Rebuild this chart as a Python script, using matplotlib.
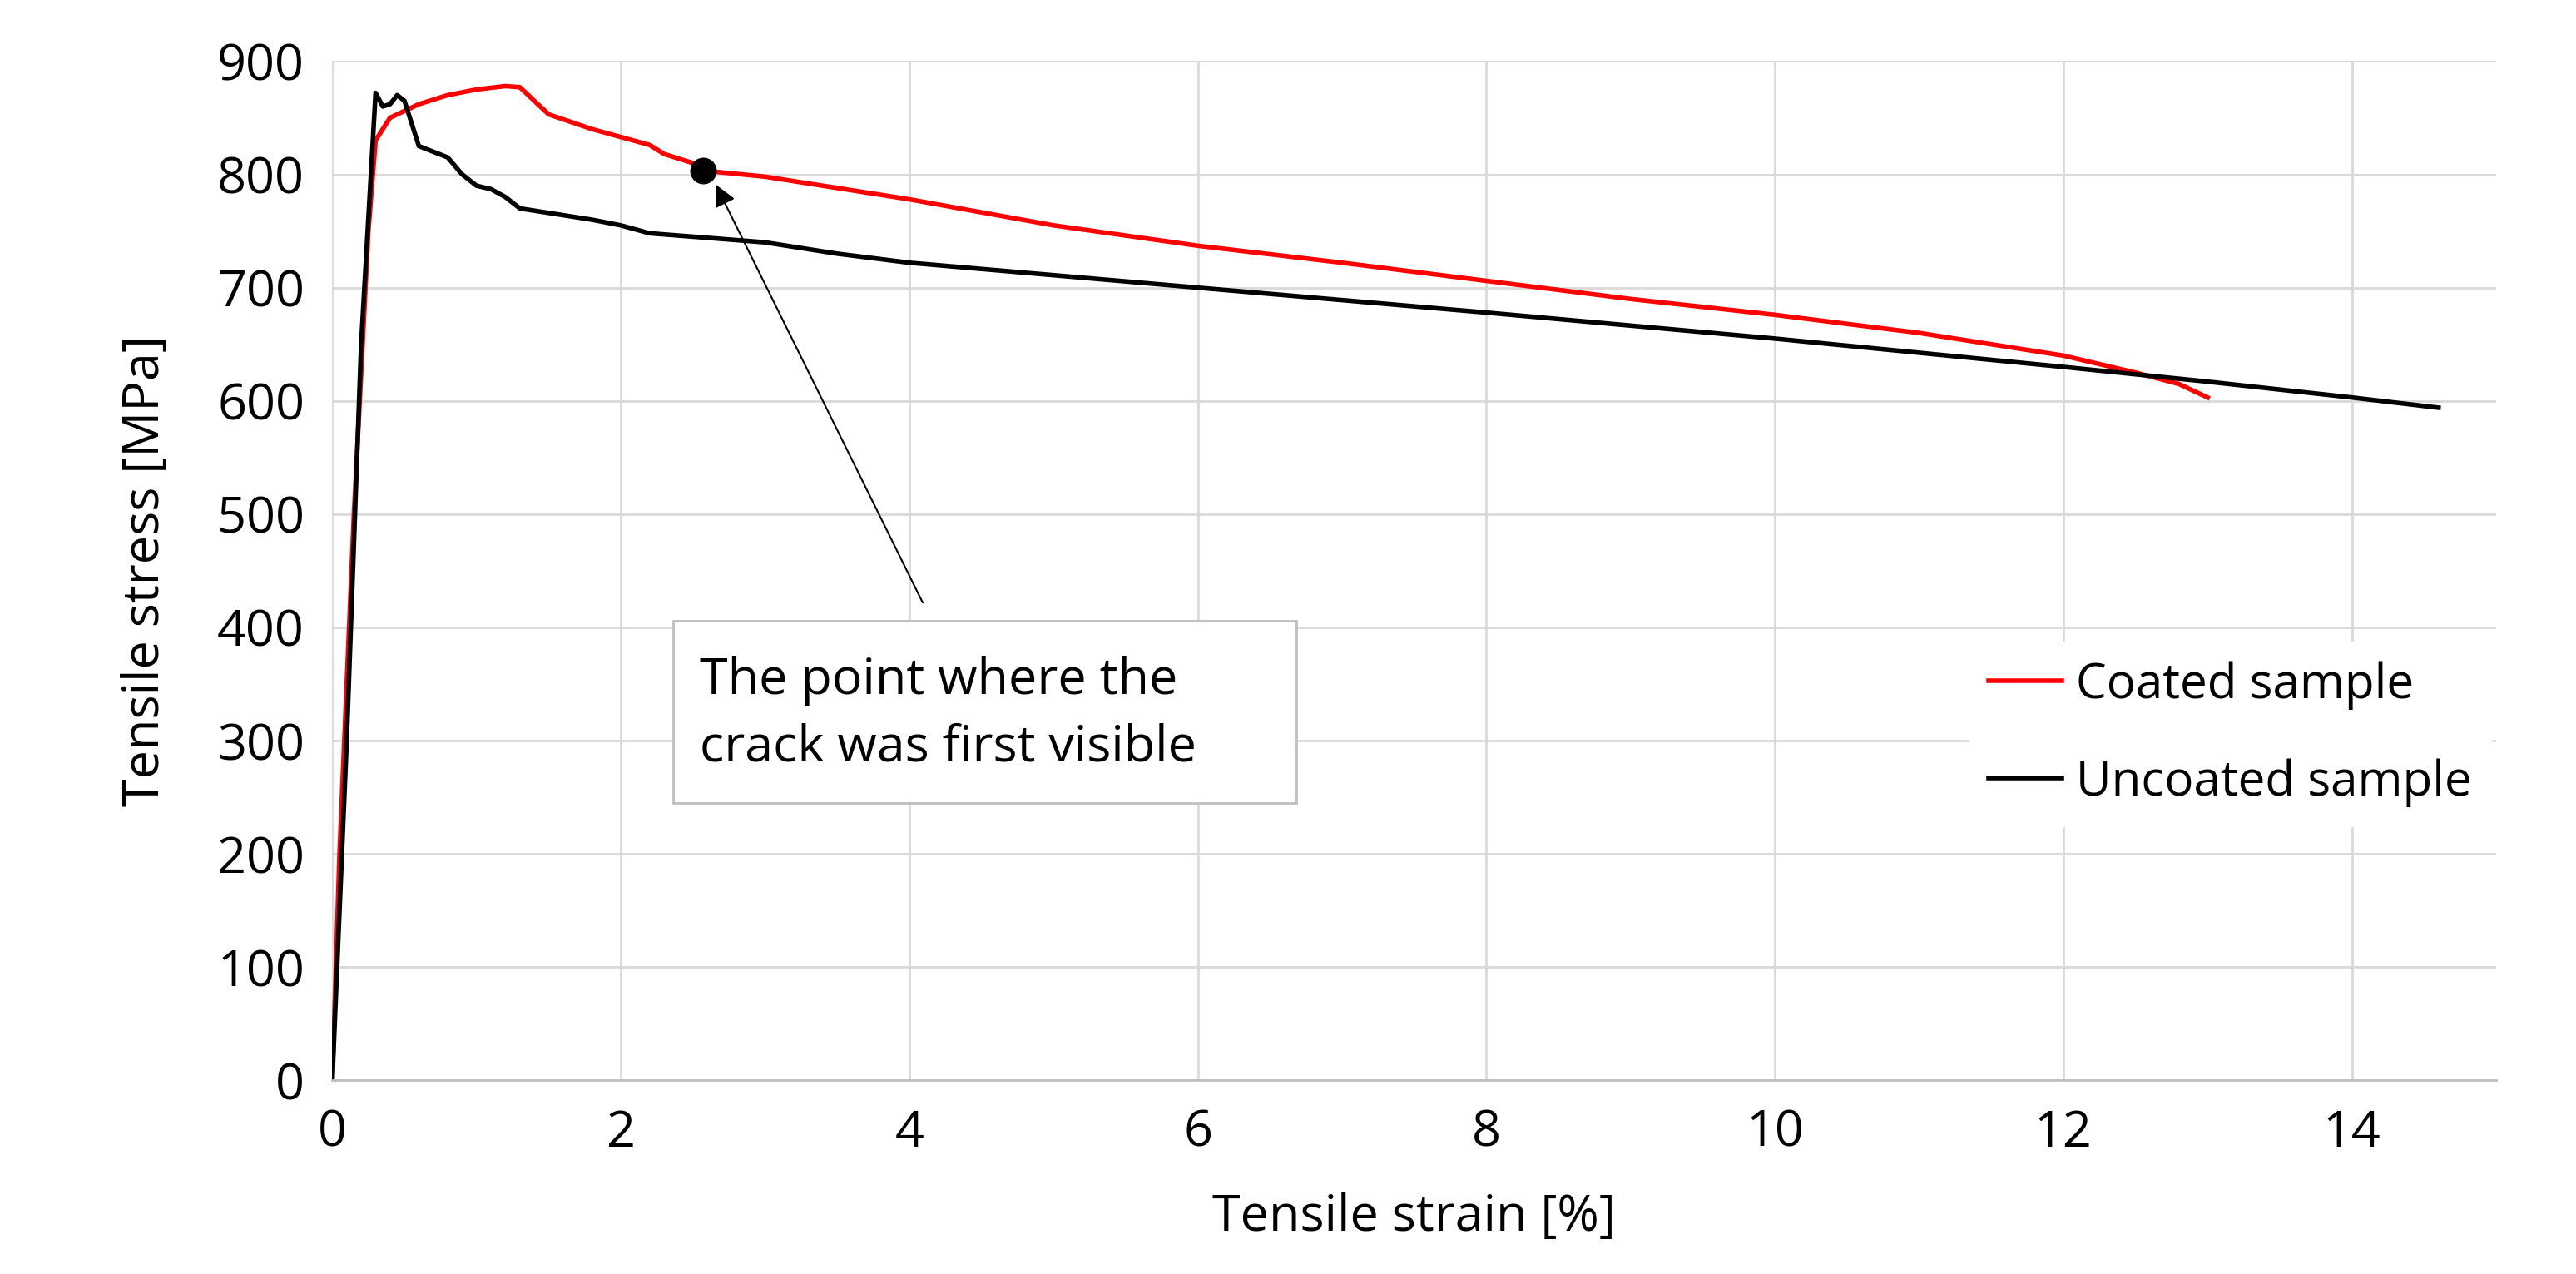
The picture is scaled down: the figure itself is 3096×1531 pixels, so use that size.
import matplotlib
matplotlib.use("Agg")
import matplotlib.pyplot as plt
from matplotlib.patches import Rectangle

coated_x = [0, 0.05, 0.15, 0.25, 0.3, 0.4, 0.6, 0.8, 1.0, 1.2, 1.3, 1.4, 1.5, 1.8, 2.0, 2.2, 2.3, 2.5, 2.6, 3, 4, 5, 6, 7, 8, 9, 10, 11, 12, 12.5, 12.8, 13.0]
coated_y = [0, 200, 500, 750, 830, 850, 862, 870, 875, 878, 877, 865, 853, 840, 833, 826, 818, 810, 803, 798, 778, 755, 737, 722, 706, 690, 676, 660, 640, 625, 615, 603]
uncoated_x = [0, 0.1, 0.2, 0.3, 0.35, 0.4, 0.45, 0.5, 0.6, 0.7, 0.8, 0.9, 1.0, 1.1, 1.2, 1.3, 1.5, 1.8, 2.0, 2.2, 3, 3.5, 4, 6, 8, 10, 12, 13, 14, 14.6]
uncoated_y = [0, 300, 650, 872, 860, 862, 870, 865, 825, 820, 815, 800, 790, 787, 780, 770, 766, 760, 755, 748, 740, 730, 722, 700, 678, 655, 630, 617, 603, 594]
crack_x, crack_y = 2.57, 803

plt.rcParams['font.family'] = ['Open Sans', 'DejaVu Sans']
fig = plt.figure(figsize=(30.96, 15.31), dpi=100)
ax = fig.add_axes([0.129, 0.152, 0.84, 0.80])
ax.plot(coated_x, coated_y, color='#ff0000', lw=4, label='Coated sample')
ax.plot(uncoated_x, uncoated_y, color='black', lw=4, label='Uncoated sample')
ax.plot([crack_x], [crack_y], 'o', color='black', ms=22)
ax.annotate('', xy=(2.65, 793), xytext=(4.1, 420),
            arrowprops=dict(arrowstyle='-|>', color='black', lw=1.5, mutation_scale=40))
ax.add_patch(Rectangle((2.36, 245), 4.32, 161, facecolor='white', edgecolor='#bfbfbf', lw=2, zorder=5))
ax.text(2.55, 375, 'The point where the\ncrack was first visible', fontsize=44, va='top', ha='left',
        linespacing=1.45, zorder=6)
ax.set_xlim(0, 15)
ax.set_ylim(0, 900)
ax.set_xticks(range(0, 15, 2))
ax.set_yticks(range(0, 901, 100))
ax.grid(True, color='#d9d9d9', lw=2)
ax.set_axisbelow(True)
for s in ['top', 'right', 'left']:
    ax.spines[s].set_visible(False)
ax.spines['bottom'].set_color('#bfbfbf')
ax.spines['bottom'].set_linewidth(2)
ax.tick_params(length=0, labelsize=44, pad=24)
ax.set_xlabel('Tensile strain [%]', fontsize=44, labelpad=30)
ax.set_ylabel('Tensile stress [MPa]', fontsize=44, labelpad=40)
leg = ax.legend(loc='center right', bbox_to_anchor=(1.0, 0.34), fontsize=42, frameon=True,
                handlelength=1.5, handletextpad=0.3, labelspacing=1.0, borderaxespad=0.1)
leg.get_frame().set_edgecolor('white')
leg.get_frame().set_alpha(1)
fig.savefig('out.png')
